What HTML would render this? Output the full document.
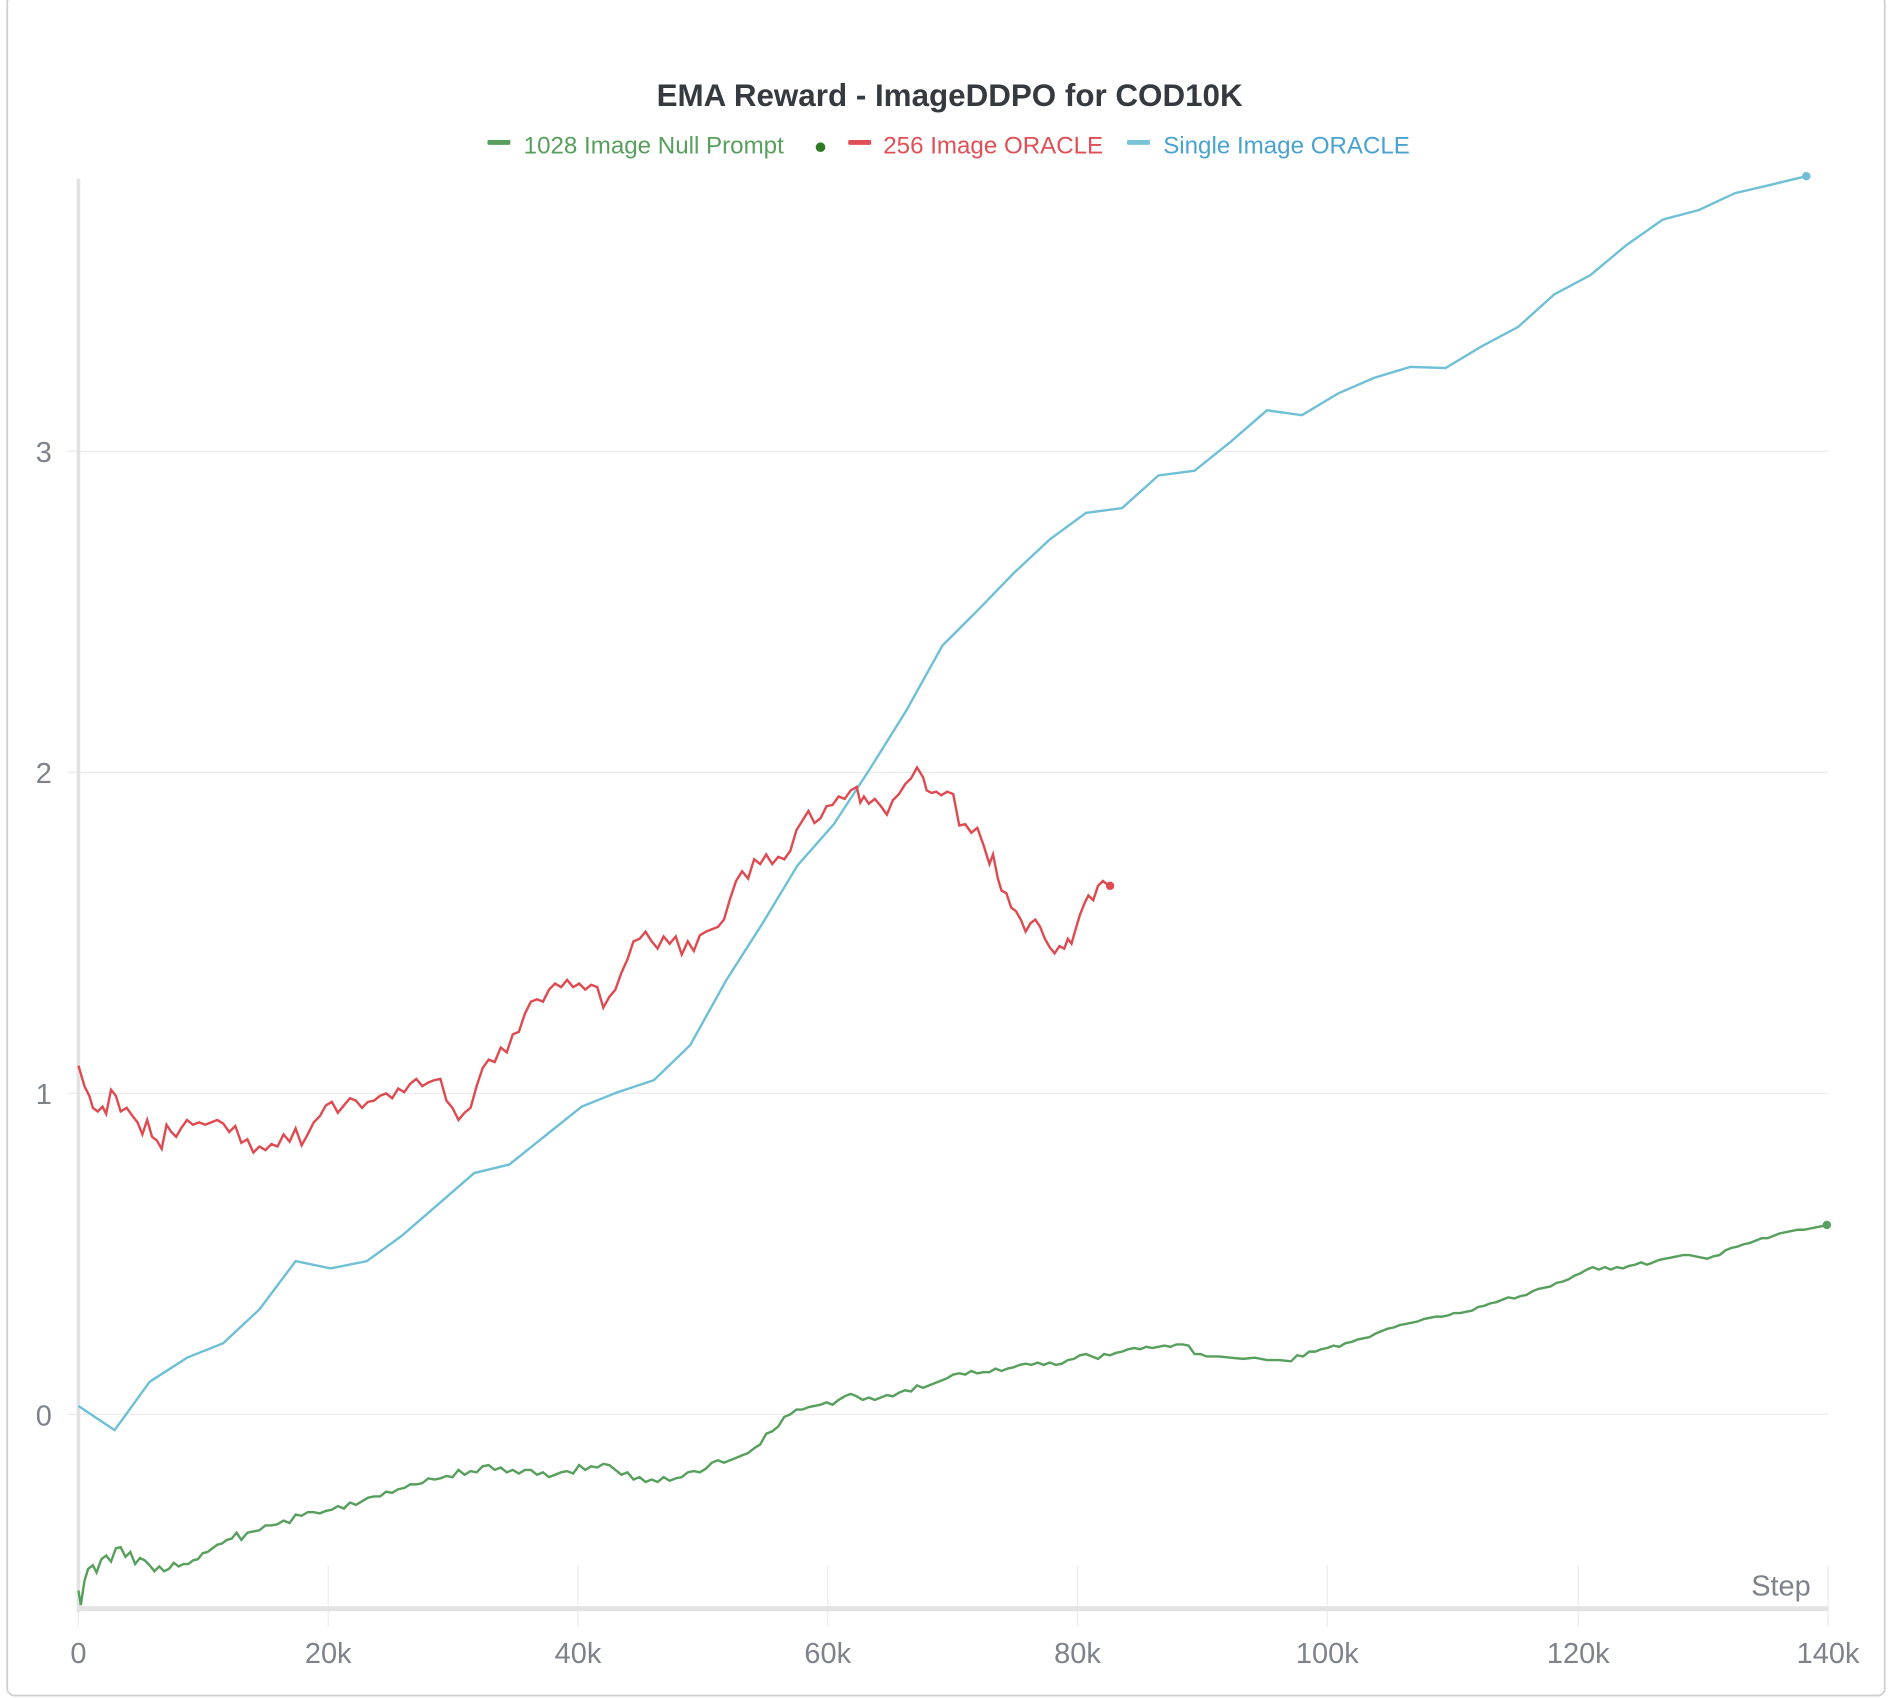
<!DOCTYPE html>
<html><head><meta charset="utf-8"><style>
html,body{margin:0;padding:0;background:#fff;width:1892px;height:1698px;overflow:hidden}
svg{display:block}
text{font-family:"Liberation Sans",sans-serif}
</style></head><body>
<svg width="1892" height="1698" viewBox="0 0 1568 1407" preserveAspectRatio="none">
<rect x="6" y="-4" width="1556" height="1409" rx="6" fill="#fff" stroke="#d0d0d0" stroke-width="1.5"/>
<text x="787" y="88" text-anchor="middle" font-size="26" font-weight="bold" fill="#353a40">EMA Reward - ImageDDPO for COD10K</text>
<g font-size="20">
<rect x="404" y="116" width="19" height="4" rx="1" fill="#579f5c"/>
<text x="434" y="127" fill="#579f5c">1028 Image Null Prompt</text>
<circle cx="680" cy="122" r="4" fill="#2f7a26"/>
<rect x="703" y="116" width="19" height="4" rx="1" fill="#df4f55"/>
<text x="732" y="127" fill="#df4f55">256 Image ORACLE</text>
<rect x="934" y="116" width="19" height="4" rx="1" fill="#77c4da"/>
<text x="964" y="127" fill="#4aa2d0">Single Image ORACLE</text>
</g>
<g stroke="#ececec" stroke-width="1">
<line x1="56" y1="374" x2="1515" y2="374"/><line x1="56" y1="640" x2="1515" y2="640"/>
<line x1="56" y1="906" x2="1515" y2="906"/><line x1="56" y1="1172" x2="1515" y2="1172"/>
<line x1="65" y1="1333" x2="65" y2="1348"/><line x1="272" y1="1297" x2="272" y2="1348"/>
<line x1="479" y1="1297" x2="479" y2="1348"/><line x1="686" y1="1297" x2="686" y2="1348"/>
<line x1="893" y1="1297" x2="893" y2="1348"/><line x1="1100" y1="1297" x2="1100" y2="1348"/>
<line x1="1308" y1="1297" x2="1308" y2="1348"/><line x1="1515" y1="1297" x2="1515" y2="1348"/>
</g>
<line x1="65" y1="148" x2="65" y2="1336" stroke="#e3e3e5" stroke-width="3"/>
<line x1="65" y1="1333" x2="1515" y2="1333" stroke="#e3e3e5" stroke-width="4"/>
<g font-size="24" fill="#7d828b" text-anchor="end">
<text x="43" y="383">3</text><text x="43" y="649">2</text><text x="43" y="915">1</text><text x="43" y="1181">0</text>
</g>
<g font-size="24" fill="#7d828b" text-anchor="middle">
<text x="65" y="1378">0</text><text x="272" y="1378">20k</text><text x="479" y="1378">40k</text><text x="686" y="1378">60k</text>
<text x="893" y="1378">80k</text><text x="1100" y="1378">100k</text><text x="1308" y="1378">120k</text><text x="1515" y="1378">140k</text>
<text x="1476" y="1322">Step</text>
</g>
<polyline fill="none" stroke="#6fc0d6" stroke-width="2" points="65,1165 95,1185 124,1145 155,1125 185,1113 215,1085 245,1045 274,1051 304,1045 333,1024 363,998 393,972 422,965 452,941 482,917 512,905 542,895 572,866 602,812 632,765 661,717 691,683 721,637 751,589 781,535 811,505 840,475 870,447 900,425 930,421 960,394 990,390 1020,366 1050,340 1079,344 1109,326 1139,313 1169,304 1198,305 1228,287 1258,271 1288,244 1318,228 1348,203 1378,182 1408,174 1438,160 1468,153 1497,146"/>
<circle cx="1497" cy="146" r="3.5" fill="#6fc0d6"/>
<polyline fill="none" stroke="#df4a50" stroke-width="2" points="65,883 70,900 74,908 77,918 81,921 85,917 88,923 92,903 96,908 100,921 105,918 110,925 114,930 118,940 122,928 126,942 130,945 134,952 138,932 142,938 146,942 150,935 155,928 160,932 165,930 170,932 175,930 180,928 185,931 190,938 195,933 200,947 205,944 210,955 215,950 220,953 225,948 230,950 235,940 240,946 245,935 250,949 255,940 260,930 265,925 270,916 275,913 280,922 285,916 290,910 295,912 300,918 305,913 310,912 315,908 320,906 325,910 330,902 335,905 340,898 345,894 350,900 355,897 360,895 365,894 370,912 375,918 380,928 385,922 390,918 395,900 400,885 405,878 410,880 415,868 420,872 425,857 430,855 435,840 440,830 445,828 450,830 455,820 460,815 465,818 470,812 475,818 480,815 485,820 490,816 495,818 500,835 505,826 510,820 515,806 520,795 525,780 530,778 535,772 540,780 545,786 550,776 555,782 560,776 565,791 570,780 575,788 580,775 585,772 590,770 595,768 600,762 605,745 610,730 615,722 620,728 625,712 630,716 635,708 640,716 645,710 650,712 655,705 660,688 665,680 670,672 675,682 680,678 685,668 690,667 695,660 700,662 705,655 710,652 713,665 716,660 720,666 725,662 730,668 735,675 740,663 745,658 750,650 755,645 760,636 765,644 768,655 772,657 776,656 780,659 785,656 790,658 795,684 800,683 805,690 810,686 815,700 820,716 823,708 827,728 830,738 834,740 838,752 842,755 846,762 850,772 854,765 858,762 862,768 866,778 870,785 874,790 878,784 882,786 885,778 888,782 892,768 895,758 899,748 902,742 906,746 910,734 914,730 918,733"/>
<circle cx="920" cy="734" r="3.5" fill="#df4a50"/>
<polyline fill="none" stroke="#579f5c" stroke-width="2" points="65,1318 67,1330 70,1310 73,1300 77,1297 80,1303 84,1292 88,1289 92,1294 96,1283 100,1282 104,1290 108,1286 112,1296 116,1291 120,1293 124,1297 128,1302 132,1298 136,1302 140,1300 144,1295 148,1298 152,1296 156,1296 160,1293 164,1292 168,1287 172,1286 176,1283 180,1280 184,1279 188,1276 192,1275 196,1270 200,1276 205,1270 210,1269 215,1268 220,1264 225,1264 230,1263 235,1260 240,1262 245,1255 250,1256 255,1253 260,1253 265,1254 270,1252 275,1251 280,1248 285,1250 290,1245 295,1247 300,1244 305,1241 310,1240 315,1240 320,1236 325,1237 330,1234 335,1233 340,1230 345,1230 350,1229 355,1225 360,1226 365,1225 370,1223 375,1224 380,1218 385,1222 390,1219 395,1220 400,1215 405,1214 410,1218 415,1216 420,1220 425,1218 430,1221 435,1218 440,1218 445,1222 450,1220 455,1224 460,1222 465,1220 470,1219 475,1221 480,1214 485,1218 490,1215 495,1216 500,1213 505,1214 510,1218 515,1222 520,1220 525,1226 530,1224 535,1228 540,1226 545,1228 550,1224 555,1227 560,1225 565,1224 570,1220 575,1219 580,1220 585,1217 590,1212 595,1210 600,1212 605,1210 610,1208 615,1206 620,1204 625,1200 630,1197 635,1188 640,1186 645,1182 650,1174 655,1172 660,1168 665,1168 670,1166 675,1165 680,1164 685,1162 690,1164 695,1160 700,1157 705,1155 710,1157 715,1160 720,1158 725,1160 730,1158 735,1156 740,1157 745,1154 750,1152 755,1153 760,1148 765,1150 770,1148 775,1146 780,1144 785,1142 790,1139 795,1138 800,1139 805,1136 810,1138 815,1137 820,1137 825,1134 830,1136 835,1134 840,1133 845,1131 850,1130 855,1131 860,1129 865,1131 870,1129 875,1131 880,1130 885,1127 890,1126 895,1123 900,1122 905,1124 910,1126 915,1122 920,1123 925,1121 930,1120 935,1118 940,1117 945,1118 950,1116 955,1117 960,1116 965,1115 970,1116 975,1114 980,1114 985,1115 990,1122 995,1122 1000,1124 1010,1124 1020,1125 1030,1126 1040,1125 1050,1127 1060,1127 1070,1128 1075,1123 1080,1124 1085,1120 1090,1120 1095,1118 1100,1117 1105,1115 1110,1116 1115,1113 1120,1112 1125,1110 1130,1109 1135,1108 1140,1105 1145,1103 1150,1101 1155,1100 1160,1098 1165,1097 1170,1096 1175,1095 1180,1093 1185,1092 1190,1091 1195,1091 1200,1090 1205,1088 1210,1088 1215,1087 1220,1086 1225,1083 1230,1082 1235,1080 1240,1079 1245,1077 1250,1075 1255,1076 1260,1074 1265,1073 1270,1070 1275,1068 1280,1067 1285,1066 1290,1063 1295,1062 1300,1060 1305,1057 1310,1055 1315,1052 1320,1050 1325,1052 1330,1050 1335,1052 1340,1050 1345,1051 1350,1049 1355,1048 1360,1046 1365,1048 1370,1046 1375,1044 1380,1043 1385,1042 1390,1041 1395,1040 1400,1040 1405,1041 1410,1042 1415,1043 1420,1041 1425,1040 1430,1036 1435,1034 1440,1033 1445,1031 1450,1030 1455,1028 1460,1026 1465,1026 1470,1024 1475,1022 1480,1021 1485,1020 1490,1019 1495,1019 1500,1018 1505,1017 1510,1016 1515,1015"/>
<circle cx="1514" cy="1015" r="3.5" fill="#579f5c"/>
</svg>
</body></html>
